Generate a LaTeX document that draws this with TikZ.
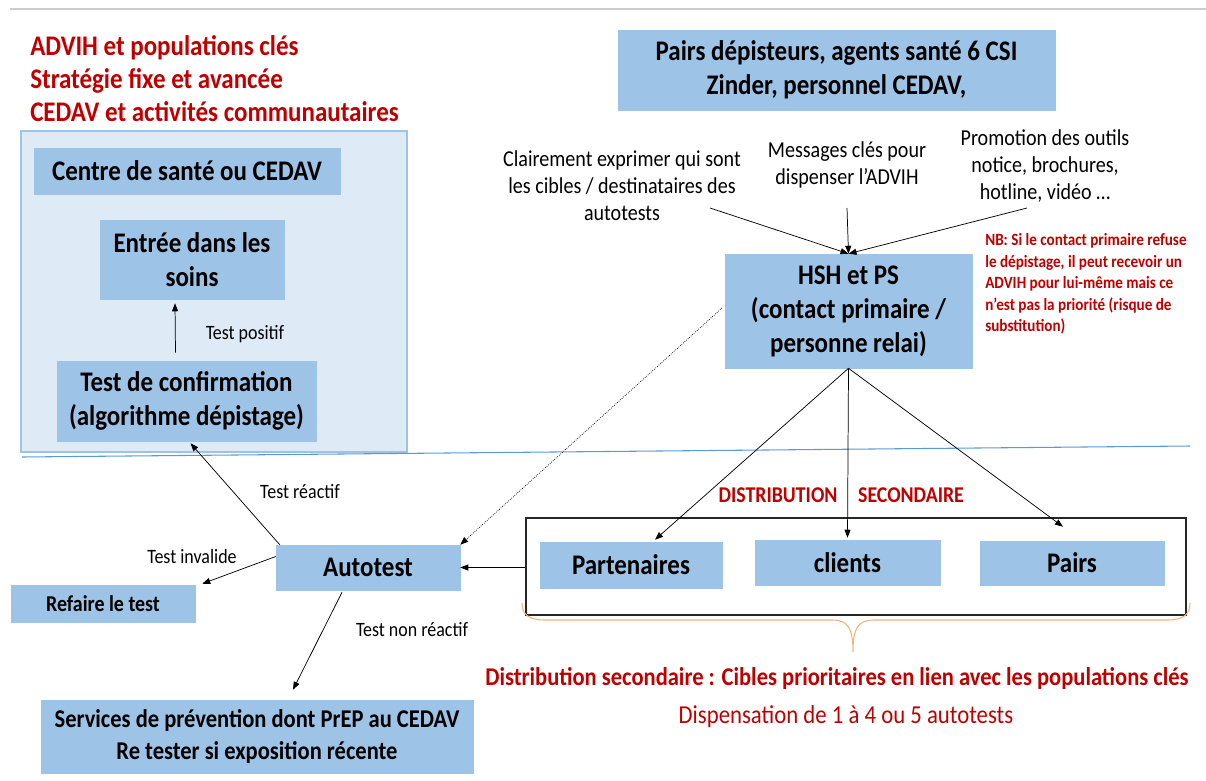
\documentclass[tikz,border=0pt]{standalone}
\usepackage{fontspec}
\setmainfont{Carlito}[FakeStretch=0.88]
\usepackage{xcolor}
\usetikzlibrary{arrows.meta, positioning, calc}

\definecolor{boxblue}{HTML}{9DC3E6}
\definecolor{panelblue}{HTML}{DEEBF7}
\definecolor{titlered}{HTML}{C00000}
\definecolor{braceorange}{HTML}{F4B183}
\definecolor{ruleblue}{HTML}{5B9BD5}

\newcommand{\fsz}[2]{\fontsize{#1}{#2}\selectfont}

\tikzset{
  size/.style 2 args={minimum width=#1*0.75pt, minimum height=#2*0.75pt},
  block/.style={rectangle, fill=boxblue, draw=boxblue, align=center,
                inner sep=1pt, font=\fsz{21.3}{25.5}\bfseries},
  blockS/.style={block, font=\fsz{17}{20}\bfseries},
  blockM/.style={block, font=\fsz{19.2}{24}\bfseries},
  panel/.style={rectangle, fill=panelblue, draw=boxblue, line width=0.8pt},
  frame/.style={rectangle, draw=black!85, line width=0.8pt},
  redhead/.style={align=left, text=titlered, inner sep=0pt,
                  font=\fsz{21.3}{25}\bfseries},
  info/.style={align=center, inner sep=0pt, font=\fsz{17.1}{20.3}},
  note/.style={align=left, text=titlered, inner sep=0pt,
               font=\fsz{12.9}{16.2}\bfseries},
  tag/.style={inner sep=0pt, font=\fsz{15.3}{17}},
  arrow/.style={-{Triangle[length=6pt, width=4.5pt]}, draw=black, line width=0.55pt},
}

\begin{document}
\begin{tikzpicture}[x=0.75pt, y=-0.75pt]
  \useasboundingbox (0,0) rectangle (1206,781);
  \draw[black!20, line width=1.2pt] (10,9) -- (1206,9);

  \node[panel, size={386}{321}] (panel) at (214,291.5) {};
  \node[redhead, anchor=west] (title) at (30,78.5)
       {ADVIH et populations clés\\Stratégie fixe et avancée\\CEDAV et activités communautaires};

  \node[block, size={306}{46}]  (centre)  at (187,171)   {Centre de santé ou CEDAV};
  \node[block, size={184}{79}]  (soins)   at (192,259.5) {Entrée dans les\\soins};
  \node[block, size={259}{80}]  (confirm) at (186.5,401) {Test de confirmation\\(algorithme dépistage)};

  \draw[ruleblue, line width=0.8pt] (22,457) -- (1190,446);

  \node[block, size={437}{80}]  (pairsdep) at (836.5,70) {Pairs dépisteurs, agents santé 6 CSI\\Zinder, personnel CEDAV,};
  \node[info] (clair) at (622,186) {Clairement exprimer qui sont\\les cibles / destinataires des\\autotests};
  \node[info] (msg)   at (847,165) {Messages clés pour\\dispenser l’ADVIH};
  \node[info] (promo) at (1045,166) {Promotion des outils\\notice, brochures,\\hotline, vidéo …};
  \node[block, size={247}{114}] (hsh) at (848.5,311) {HSH et PS\\(contact primaire /\\personne relai)};
  \node[note, anchor=west] (nb) at (985,284)
       {NB: Si le contact primaire refuse\\le dépistage, il peut recevoir un\\ADVIH pour lui-même mais ce\\n’est pas la priorité (risque de\\substitution)};

  \node[note, font=\fsz{16.9}{18}\bfseries] (dist1) at (778,495) {DISTRIBUTION};
  \node[note, font=\fsz{16.9}{18}\bfseries] (dist2) at (911,495) {SECONDAIRE};
  \node[frame, size={660}{97}] (frame) at (856,566.5) {};
  \node[block, size={182}{46}] (parten)  at (631,565)    {Partenaires};
  \node[block, size={185}{45}] (clients) at (847.5,562.5) {clients};
  \node[block, size={184}{44}] (pairs)   at (1072,563)   {Pairs};

  \node[block, size={184}{45}] (auto)     at (368,567.5) {Autotest};
  \node[blockS, size={184}{37}] (refaire) at (103,603.5) {Refaire le test};
  \node[blockM, size={432}{73}] (services) at (257,736.5) {Services de prévention dont PrEP au CEDAV\\Re tester si exposition récente};

  \node[tag] (tpos) at (245,334) {Test positif};
  \node[tag] (trea) at (300,492) {Test réactif};
  \node[tag] (tinv) at (192,556) {Test invalide};
  \node[tag] (tnon) at (412,630) {Test non réactif};

  \node[note, font=\fsz{19.2}{21}\bfseries] (cibles) at (837,679)
       {Distribution secondaire : Cibles prioritaires en lien avec les populations clés};
  \node[note, font=\fsz{19.4}{21}] (dispens) at (846,717) {Dispensation de 1 à 4 ou 5 autotests};

  \coordinate (c1) at (710,208);
  \coordinate (c2) at (847,208);
  \coordinate (c3) at (1027,208);
  \coordinate (d0) at (722,308);
  \foreach \a in {c1, c2, c3}
    \draw[arrow] (\a) -- (hsh.north);

  \draw[arrow] ($(confirm.north)+(-11,-8)$) -- ($(soins.south)+(-17,4)$);
  \draw[arrow, densely dotted] (d0) -- (auto.north east);
  \draw[arrow] (hsh.south) -- ($(parten.north)+(24,-2)$);
  \draw[arrow] (hsh.south) -- ($(clients.north)+(0,-2)$);
  \draw[arrow] (hsh.south) -- ($(pairs.north)+(-9,-14)$);
  \draw[arrow] (frame.west |- auto.east) -- (auto.east);
  \draw[arrow] ($(auto.north west)+(4,0)$) -- ($(confirm.south)+(4,2)$);
  \draw[arrow] ($(auto.west)+(0,-11)$) -- ($(refaire.north east)+(7,-1)$);
  \draw[arrow] ($(auto.south)+(-26,2)$) -- ($(services.north)+(36,-10)$);

  \draw[braceorange, line width=0.8pt]
    (522,603) .. controls (522,614) and (528,620) .. (545,620) -- (832,620)
    .. controls (848,620) and (853,628) .. (853,652)
    .. controls (853,628) and (858,620) .. (874,620) -- (1167,620)
    .. controls (1184,620) and (1190,614) .. (1190,603);
\end{tikzpicture}
\end{document}
